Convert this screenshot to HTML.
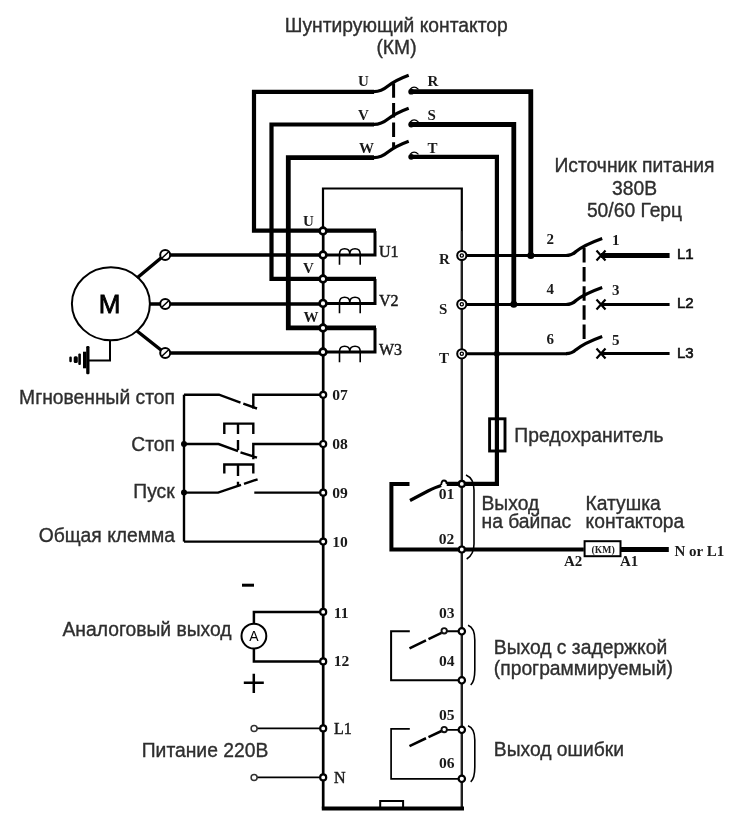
<!DOCTYPE html>
<html><head><meta charset="utf-8"><title>Schema</title>
<style>
html,body{margin:0;padding:0;background:#fff;width:735px;height:826px;overflow:hidden}
svg{display:block;filter:grayscale(1)}
text{-webkit-font-smoothing:antialiased}
.s{font-family:"Liberation Sans",sans-serif;fill:#2e2e2e;stroke:#2e2e2e;stroke-width:0.35px;font-size:19.3px}
.b{font-family:"Liberation Serif",serif;font-weight:bold;fill:#1a1a1a;font-size:15px}
.k{fill:none;stroke:#000;stroke-linecap:butt;stroke-linejoin:miter}
</style></head><body>
<svg width="735" height="826" viewBox="0 0 735 826">
<!-- titles -->
<text class="s" x="396.3" y="31.6" text-anchor="middle">Шунтирующий контактор</text>
<text class="s" x="396.5" y="54.2" text-anchor="middle">(КМ)</text>
<text class="s" x="634.5" y="171.5" text-anchor="middle">Источник питания</text>
<text class="s" x="634.5" y="195.1" text-anchor="middle">380В</text>
<text class="s" x="634.5" y="217.2" text-anchor="middle">50/60 Герц</text>
<text class="s" x="175" y="404.4" text-anchor="end">Мгновенный стоп</text>
<text class="s" x="175" y="450.8" text-anchor="end">Стоп</text>
<text class="s" x="174.7" y="498.3" text-anchor="end">Пуск</text>
<text class="s" x="175" y="541.5" text-anchor="end">Общая клемма</text>
<text class="s" x="514.3" y="441.8">Предохранитель</text>
<text class="s" x="481.5" y="509.8">Выход</text>
<text class="s" x="481.5" y="528.3">на байпас</text>
<text class="s" x="585.5" y="510.2">Катушка</text>
<text class="s" x="585.5" y="528.2">контактора</text>
<text class="s" x="147" y="636.3" text-anchor="middle">Аналоговый выход</text>
<text class="s" x="205" y="756.6" text-anchor="middle">Питание 220В</text>
<text class="s" x="493.8" y="653.5">Выход с задержкой</text>
<text class="s" x="493.8" y="675.2">(программируемый)</text>
<text class="s" x="493.8" y="756.4">Выход ошибки</text>
<g class="s" style="font-size:15px;fill:#111;stroke:#111;stroke-width:0.6px">
<text x="677" y="258.9">L1</text>
<text x="677" y="308">L2</text>
<text x="677" y="357.8">L3</text>
</g>
<text x="109.5" y="312.8" text-anchor="middle" style="font-family:'Liberation Sans';font-size:26px;fill:#000;stroke:#000;stroke-width:0.8">M</text>

<!-- serif labels -->
<g class="b">
<text x="358" y="86">U</text><text x="427.5" y="86">R</text>
<text x="358" y="120">V</text><text x="427.5" y="120">S</text>
<text x="359" y="152.9">W</text><text x="427.5" y="152.9">T</text>
<text x="303" y="225.7">U</text>
<text x="303" y="272.5">V</text>
<text x="303.5" y="322.3">W</text>
<text x="379" y="256.5" style="font-weight:normal;font-size:16px;stroke:#1a1a1a;stroke-width:0.45px">U1</text>
<text x="379" y="305.5" style="font-weight:normal;font-size:16px;stroke:#1a1a1a;stroke-width:0.45px">V2</text>
<text x="379" y="354.5" style="font-weight:normal;font-size:16px;stroke:#1a1a1a;stroke-width:0.45px">W3</text>
<text x="439" y="263.6">R</text>
<text x="439" y="314">S</text>
<text x="439" y="363.3">T</text>
<text x="546.5" y="244.2">2</text>
<text x="546.5" y="293.6">4</text>
<text x="546.5" y="344">6</text>
<text x="612" y="244.6">1</text>
<text x="612" y="294.8">3</text>
<text x="612" y="345">5</text>
<text x="332.3" y="399.9" style="font-size:15.6px">07</text>
<text x="332.3" y="449.4" style="font-size:15.6px">08</text>
<text x="332.3" y="497.9" style="font-size:15.6px">09</text>
<text x="332.3" y="546.9" style="font-size:15.6px">10</text>
<text x="438.8" y="499.4" style="font-size:15.6px">01</text>
<text x="438.8" y="544.4" style="font-size:15.6px">02</text>
<text x="564" y="566.4">A2</text>
<text x="620" y="566.3">A1</text>
<text x="674.5" y="555.8">N or L1</text>
<text x="333.8" y="618.0" style="font-size:15.6px">11</text>
<text x="333.8" y="665.8" style="font-size:15.6px">12</text>
<text x="334" y="734.3" style="font-weight:normal;font-size:16px;stroke:#1a1a1a;stroke-width:0.45px">L1</text>
<text x="334" y="783.3" style="font-weight:normal;font-size:16px;stroke:#1a1a1a;stroke-width:0.45px">N</text>
<text x="439.0" y="618.0" style="font-size:15.6px">03</text>
<text x="439.0" y="665.9" style="font-size:15.6px">04</text>
<text x="439.0" y="720.0" style="font-size:15.6px">05</text>
<text x="439.0" y="768.0" style="font-size:15.6px">06</text>
</g>

<!-- thick contactor wires -->
<g class="k" stroke-width="4.2">
<path d="M374 91.8H254V230.6H376"/>
<path d="M374 124.5H271.5V278.8H376"/>
<path d="M374 157.6H288.3V327.8H376" stroke-width="4.8"/>
<path d="M410.8 91.7H530.8V255.5" stroke-width="4.8"/>
<path d="M410.8 124.5H513.8V304.2" stroke-width="4.8"/>
<path d="M410.8 156.8H496.9V483.9H446.7"/>
</g>
<g class="k" stroke-width="3.2" stroke-linecap="round">
<path d="M373.5 91.6Q381 91.8 388 86Q396 80 408.7 75.3"/>
<path d="M373.5 124.4Q381 124.6 388 119Q396 113 408.7 108.3"/>
<path d="M373.5 157.6Q381 157.8 388 152Q396 146 408.7 141.3"/>
</g>
<path class="k" d="M393.6 83.2V148" stroke-width="3" stroke-dasharray="14.5 5.2"/>
<g class="k" stroke="#777" stroke-width="1.2">
<path d="M410 89.3Q414 84.8 418.5 89.3M410 122.1Q414 117.6 418.5 122.1M410 154.4Q414 149.9 418.5 154.4"/>
<circle cx="411.2" cy="91.7" r="2.9" fill="#000" stroke="none"/><circle cx="411.2" cy="124.5" r="2.9" fill="#000" stroke="none"/><circle cx="411.2" cy="156.8" r="2.9" fill="#000" stroke="none"/>
</g>

<!-- VFD box -->
<g class="k">
<path d="M323 231V188.5H461.8V808.4" stroke-width="2.2"/>
<path d="M461.8 231V808.4" stroke-width="1.8" stroke="#222"/>
<path d="M323.2 231V808.4" stroke-width="2.7"/>
<path d="M321.8 808.4H464" stroke-width="4"/>
<rect x="380.2" y="801" width="22.9" height="7" stroke-width="2"/>
</g>

<!-- motor -->
<g class="k" stroke-width="3.5">
<path d="M170 255H323M170 304H323M170 353H323"/>
<path d="M323 255H375V231" stroke-width="3"/>
<path d="M323 303.4H375V279" stroke-width="3"/>
<path d="M323 352H375V328" stroke-width="3"/>
<path d="M137 278L161 258M150 304H160M137 331L161 350"/>
</g>
<ellipse cx="110.9" cy="303.8" rx="39" ry="36.5" fill="none" stroke="#000" stroke-width="2"/>
<g fill="#fff" stroke="#000" stroke-width="2">
<circle cx="165.2" cy="255" r="5"/><circle cx="165.2" cy="304" r="5"/><circle cx="165.2" cy="353" r="5"/>
</g>
<g class="k" stroke-width="1.5">
<path d="M161.5 258.5L169 251.5M161.5 307.5L169 300.5M161.5 356.5L169 349.5"/>
</g>
<path class="k" stroke-width="2" d="M110 341V360.4H89"/>
<g fill="#000">
<rect x="86.2" y="346" width="3.3" height="28.3" rx="1.2"/>
<rect x="83" y="351.7" width="3.4" height="16.6"/>
<rect x="78.3" y="353.6" width="2.6" height="11.4" rx="1"/>
<rect x="73.7" y="356.3" width="4.1" height="6.8" rx="1.5"/>
<rect x="69.3" y="356.6" width="2.5" height="5.7" rx="1.2"/>
</g>

<!-- coils -->
<g class="k" stroke-width="1.6">
<path d="M339.5 264.7V254Q339.5 248.8 344.6 248.8Q349.8 248.8 349.8 254Q349.8 248.8 355 248.8Q360.2 248.8 360.2 254V264.7"/>
<path d="M339.5 313.2V302.5Q339.5 297.3 344.6 297.3Q349.8 297.3 349.8 302.5Q349.8 297.3 355 297.3Q360.2 297.3 360.2 302.5V313.2"/>
<path d="M339.5 362.2V351.5Q339.5 346.3 344.6 346.3Q349.8 346.3 349.8 351.5Q349.8 346.3 355 346.3Q360.2 346.3 360.2 351.5V362.2"/>
</g>

<!-- left terminals U V W -->
<g fill="#fff" stroke="#000" stroke-width="2.6">
<circle cx="323" cy="231" r="3.4"/><circle cx="323" cy="255" r="3.4"/>
<circle cx="323" cy="279" r="3.4"/><circle cx="323" cy="303.4" r="3.4"/>
<circle cx="323" cy="328" r="3.4"/><circle cx="323" cy="352" r="3.4"/>
</g>
<!-- right terminals R S T -->
<g class="k" stroke-width="3">
<path d="M462 255.5H566.7"/>
<path d="M462 304.4H566.7"/>
<path d="M462 353.8H566.7"/>
<path d="M601 255.6H669.6" stroke-width="5"/>
<path d="M601 304.6H669.6"/>
<path d="M601 353.6H669.6"/>
<path d="M596.5 250.6L605.5 260.6M596.5 260.6L605.5 250.6M596.5 299.6L605.5 309.6M596.5 309.6L605.5 299.6M596.5 348.6L605.5 358.6M596.5 358.6L605.5 348.6" stroke-width="2.2"/>
<path d="M584.1 248V341.7" stroke-dasharray="14.5 4.6"/>
</g>
<g class="k" stroke-width="3.2" stroke-linecap="round">
<path d="M566 255.5Q572 255.5 576 251.5Q584 245 602.2 238.5"/>
<path d="M566 304.5Q572 304.5 576 300.5Q584 294 602.2 287.5"/>
<path d="M566 353.7Q572 353.7 576 349.7Q584 343 602.2 336.4"/>
</g>
<g fill="#000">
<circle cx="530.8" cy="255.5" r="3.5"/><circle cx="513.8" cy="304.3" r="3.5"/><circle cx="496.9" cy="353.8" r="3"/>
</g>
<g fill="#fff" stroke="#000" stroke-width="2">
<circle cx="461.8" cy="255.5" r="4.6"/><circle cx="461.8" cy="304.3" r="4.6"/><circle cx="461.8" cy="353.8" r="4.6"/>
</g>
<g fill="none" stroke="#000" stroke-width="1.3">
<circle cx="461.8" cy="255.5" r="1.6"/><circle cx="461.8" cy="304.3" r="1.6"/><circle cx="461.8" cy="353.8" r="1.6"/>
</g>

<!-- fuse -->
<rect x="489.6" y="418.8" width="15.4" height="32.2" fill="none" stroke="#000" stroke-width="2.9"/>

<!-- control switches -->
<g class="k" stroke-width="2.4" stroke="#151515">
<path d="M184 394.7V541.6"/>
<path d="M184 394.7H219L240.5 402.6M243.3 403.6L257 408.5M253.3 408.8V394.7H323"/>
<path d="M224.3 434V423.6H253.3V434M238 423.6V434M238 440V450"/>
<path d="M184 444H218.6L238 451.2M240.5 452.3L257 457.6M253.3 459.3V444H323"/>
<path d="M224.3 473.6V464.5H253.3V473.6M238 464.5V476M238 481.7V486.4"/>
<path d="M184 492.6H218.1L241 484.8M244 483.8L257.6 479.3M254.3 492.6H323"/>
<path d="M184 541.6H323"/>
</g>
<g fill="#000"><circle cx="184" cy="444" r="3"/><circle cx="184" cy="492.6" r="3"/></g>

<!-- bypass -->
<g class="k" stroke-width="4">
<path d="M409.5 483.9H391.4V549.5H583.8"/>
<path d="M620.5 549.5H668.8" stroke-width="5"/>
</g>
<path class="k" stroke-width="3.2" stroke-linecap="round" d="M410 500.5L428 491Q436 487 441.2 485.5"/>
<path class="k" stroke-width="1.8" d="M441.2 485Q441.5 480.5 444 480.5Q446.7 480.5 446.7 484"/>
<rect x="584.6" y="541.2" width="35.9" height="15" fill="#fff" stroke="#000" stroke-width="2"/>
<text x="591.5" y="553" style="font-family:'Liberation Serif';font-weight:bold;font-size:10px;fill:#222">(КМ)</text>
<g class="k" stroke-width="1.6">
<path d="M466 475.1C471.5 477.5 474 482 474 490V544C474 551 471.5 556 466.7 559"/>
<path d="M468 625.2C473 627 474.8 632 474.8 640V670C474.8 678 473.5 682.5 470.7 685"/>
<path d="M468 725.7C473 727.5 474.8 732 474.8 740V767C474.8 775 473.5 779.5 470.7 781.8"/>
</g>

<!-- analog -->
<g class="k" stroke-width="2.5">
<path d="M323 611.9H253.9V623.7M253.9 648.5V661.4H323"/>
<path d="M242 585.2H254" stroke-width="3"/>
<path d="M243.8 682.8H263.8M253.8 673.8V692.9"/>
</g>
<circle cx="253.9" cy="636.1" r="12.4" fill="none" stroke="#000" stroke-width="2"/>
<text x="253.9" y="641.3" text-anchor="middle" style="font-family:'Liberation Sans';font-size:14px;fill:#000">A</text>

<!-- 220 -->
<g class="k" stroke-width="1.8" stroke="#333">
<path d="M257 728.4H323M257 777.4H323"/>
</g>
<g fill="#fff" stroke="#333" stroke-width="1.5">
<circle cx="254.1" cy="728.4" r="3"/><circle cx="254.1" cy="777.4" r="3"/>
</g>

<!-- relays -->
<g class="k" stroke-width="2" stroke="#222">
<path d="M461.8 631.3H447M409.8 631.3H391.1V680.3H461.8"/>
<path d="M461.8 729.8H447M409.8 728.8H391.1V778.8H461.8" stroke-width="1.7"/>
</g>
<g class="k" stroke-width="2.6" stroke="#111">
<path d="M409.5 648.3L426 640.3M428.5 639.1L441.5 632.9"/>
<path d="M409.5 746.1L426 738.3M428.5 737.1L441.5 731"/>
</g>
<g fill="#fff" stroke="#111" stroke-width="1.9">
<circle cx="444.2" cy="630.8" r="2.7"/><circle cx="444.2" cy="729.6" r="2.7"/>
</g>

<!-- small terminals -->
<g fill="#fff" stroke="#000" stroke-width="2.2">
<circle cx="323.2" cy="394.8" r="3"/><circle cx="323.2" cy="444" r="3"/>
<circle cx="323.2" cy="492.7" r="3"/><circle cx="323.2" cy="541.6" r="3"/>
<circle cx="323.2" cy="611.9" r="3"/><circle cx="323.2" cy="661.4" r="3"/>
<circle cx="323.2" cy="728.4" r="3"/><circle cx="323.2" cy="777.4" r="3"/>
<circle cx="461.8" cy="483.9" r="3"/><circle cx="461.8" cy="549.5" r="3"/>
<circle cx="461.8" cy="631.3" r="3.2"/><circle cx="461.8" cy="680.3" r="3.2"/>
<circle cx="461.8" cy="729.8" r="3.2"/><circle cx="461.8" cy="778.8" r="3.2"/>
</g>
</svg>
</body></html>
